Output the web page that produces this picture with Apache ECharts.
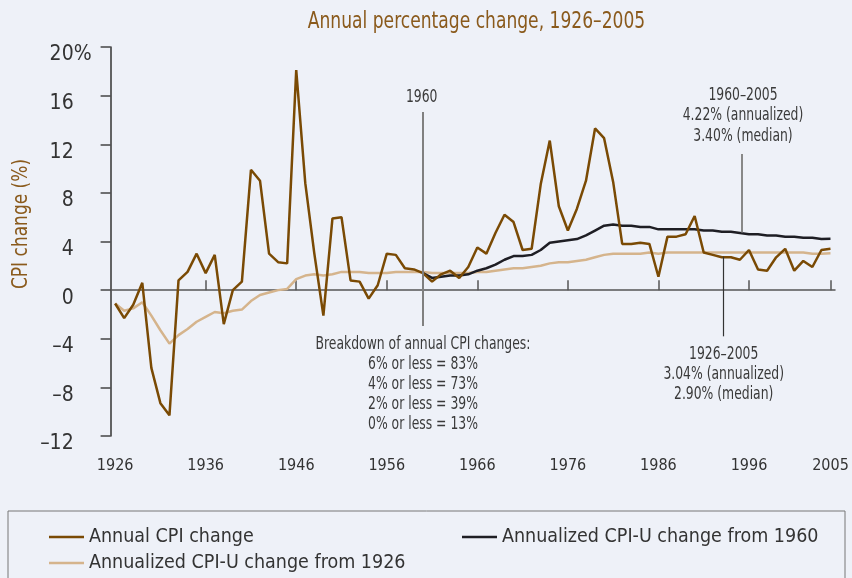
<!DOCTYPE html>
<html>
<head>
<meta charset="utf-8">
<script src="https://cdn.jsdelivr.net/npm/echarts@6/dist/echarts.min.js"></script>
<style>
  html, body { margin: 0; padding: 0; background: #eef1f8; }
  #chart { width: 852px; height: 578px; }
</style>
</head>
<body>
<div id="chart"></div>
<script>
const FONT = "'Liberation Sans Narrow', 'DejaVu Sans Condensed', sans-serif";
const NARROW = 0.81; // squeeze for the condensed look

// data
const firstYear = 1926;
const annualCpi = [
  -1.1, -2.3, -1.2, 0.6, -6.4, -9.3, -10.3, 0.8, 1.5, 3.0,
  1.4, 2.9, -2.8, 0.0, 0.7, 9.9, 9.0, 3.0, 2.3, 2.2,
  18.1, 8.8, 3.0, -2.1, 5.9, 6.0, 0.8, 0.7, -0.7, 0.4,
  3.0, 2.9, 1.8, 1.7, 1.4, 0.7, 1.3, 1.6, 1.0, 1.9,
  3.5, 3.0, 4.7, 6.2, 5.6, 3.3, 3.4, 8.7, 12.3, 6.9,
  4.9, 6.7, 9.0, 13.3, 12.5, 8.9, 3.8, 3.8, 3.9, 3.8,
  1.1, 4.4, 4.4, 4.6, 6.1, 3.1, 2.9, 2.7, 2.7, 2.5,
  3.3, 1.7, 1.6, 2.7, 3.4, 1.6, 2.4, 1.9, 3.3, 3.4
];
const annualizedFrom1926 = [
  -1.1, -1.7, -1.5, -1.0, -2.1, -3.3, -4.4, -3.7, -3.2, -2.6,
  -2.2, -1.8, -1.9, -1.7, -1.6, -0.9, -0.4, -0.2, 0.0, 0.1,
  0.9, 1.2, 1.3, 1.2, 1.3, 1.5, 1.5, 1.5, 1.4, 1.4,
  1.4, 1.5, 1.5, 1.5, 1.5, 1.4, 1.4, 1.4, 1.4, 1.4,
  1.5, 1.5, 1.6, 1.7, 1.8, 1.8, 1.9, 2.0, 2.2, 2.3,
  2.3, 2.4, 2.5, 2.7, 2.9, 3.0, 3.0, 3.0, 3.0, 3.1,
  3.0, 3.1, 3.1, 3.1, 3.1, 3.1, 3.1, 3.1, 3.1, 3.1,
  3.1, 3.1, 3.1, 3.1, 3.1, 3.1, 3.1, 3.0, 3.0, 3.04
];
const from1960Start = 1960;
const annualizedFrom1960 = [
  1.4, 1.0, 1.1, 1.2, 1.2, 1.3, 1.6, 1.8, 2.1, 2.5,
  2.8, 2.8, 2.9, 3.3, 3.9, 4.0, 4.1, 4.2, 4.5, 4.9,
  5.3, 5.4, 5.3, 5.3, 5.2, 5.2, 5.0, 5.0, 5.0, 5.0,
  5.0, 4.9, 4.9, 4.8, 4.8, 4.7, 4.6, 4.6, 4.5, 4.5,
  4.4, 4.4, 4.3, 4.3, 4.2, 4.22
];
const labelYears = [1926, 1936, 1946, 1956, 1966, 1976, 1986, 1996, 2005];
const tickYears = [1936, 1946, 1956, 1966, 1976, 1986, 1996, 2005];

// reference / leader lines [x, yFrom, yTo]
const line1960 = [1960, 14.66, -2.95];
const leader1960to2005 = [1995.2, 11.2, 4.75];
const leader1926to2005 = [1993.2, 2.75, -3.8];

const names = ['Annual CPI change', 'Annualized CPI-U change from 1960', 'Annualized CPI-U change from 1926'];
const colors = ['#7a4a04', '#1e1e24', '#d5b48c'];

const annualData = annualCpi.map((v, i) => [firstYear + i, v]);
const from1926Data = annualizedFrom1926.map((v, i) => [firstYear + i, v]);
const from1960Data = annualizedFrom1960.map((v, i) => [from1960Start + i, v]);

const vline = (l, color, width) => [
  { coord: [l[0], l[1]], lineStyle: { color: color, width: width, type: 'solid' } },
  { coord: [l[0], l[2]] }
];

const note = (x, y, text, size, lh, fill) => ({
  type: 'text', x: x, y: y, scaleX: NARROW,
  style: { text: text, fill: fill || '#3a3a3a', font: size + 'px ' + FONT, lineHeight: lh, align: 'center', verticalAlign: 'middle' }
});

const legendText = { fontFamily: FONT, fontSize: 19.5, color: '#333', lineHeight: 23 };

const chart = echarts.init(document.getElementById('chart'));

const option = {
  backgroundColor: '#eef1f8',
  animation: false,
  textStyle: { fontFamily: FONT },
  grid: {
    left: 110.6,
    right: 17,
    top: 47,
    bottom: 142,
    containLabel: false,
    outerBoundsMode: 'none'
  },
  legend: [
    {
      left: 49, top: 525.5, orient: 'vertical', itemGap: 3, padding: 0,
      icon: 'rect', itemWidth: 35, itemHeight: 2.5,
      data: [names[0], names[2]],
      textStyle: legendText
    },
    {
      left: 462, top: 525.5, orient: 'vertical', padding: 0,
      icon: 'rect', itemWidth: 35, itemHeight: 2.5,
      data: [names[1]],
      textStyle: legendText
    }
  ],
  xAxis: [
    {
      type: 'value', min: 1925.5, max: 2005.5,
      splitLine: { show: false },
      axisLine: { onZero: true, lineStyle: { color: '#555', width: 1.5 } },
      axisTick: { show: true, inside: true, length: 10, customValues: tickYears, lineStyle: { color: '#555', width: 1.5 } },
      axisLabel: { show: false }
    },
    {
      type: 'value', min: 1925.5, max: 2005.5, position: 'bottom',
      splitLine: { show: false },
      axisLine: { show: false, onZero: false },
      axisTick: { show: false },
      axisLabel: {
        customValues: labelYears, margin: 22,
        fontFamily: FONT, fontSize: 16, color: '#333',
        formatter: v => String(v)
      }
    }
  ],
  yAxis: {
    type: 'value', min: -12, max: 20, interval: 4,
    splitLine: { show: false },
    axisLine: { show: true, lineStyle: { color: '#333', width: 1.5 } },
    axisTick: { show: true, length: 10, lineStyle: { color: '#444', width: 1.5 } },
    axisLabel: {
      margin: 19,
      verticalAlign: 'top',
      lineHeight: 16,
      formatter: v => (v < 0 ? '–' + (-v) : String(v)) + (v === 20 ? '{s|%}' : '{h|%}'),
      fontFamily: FONT, fontSize: 21, color: '#333',
      rich: {
        s: { fontFamily: FONT, fontSize: 21, color: '#333', lineHeight: 16 },
        h: { fontFamily: FONT, fontSize: 21, color: 'rgba(0,0,0,0)', lineHeight: 16 }
      }
    }
  },
  graphic: [
    {
      type: 'rect', z: 0, silent: true,
      shape: { x: 8, y: 511, width: 837, height: 100 },
      style: { fill: 'none', stroke: '#777', lineWidth: 1 }
    },
    note(476.5, 22, 'Annual percentage change, 1926–2005', 23.5, 26, '#8a5a1c'),
    {
      type: 'text', x: 21, y: 224, rotation: Math.PI / 2, scaleX: 0.86,
      style: { text: 'CPI change (%)', fill: '#8a5a1c', font: '22px ' + FONT, align: 'center', verticalAlign: 'middle' }
    },
    note(421.7, 98, '1960', 17, 20),
    note(743, 116, '1960–2005\n4.22% (annualized)\n3.40% (median)', 17, 20.5),
    note(423, 384.5, 'Breakdown of annual CPI changes:\n6% or less = 83%\n4% or less = 73%\n2% or less = 39%\n0% or less = 13%', 17, 20.2),
    note(723.7, 375, '1926–2005\n3.04% (annualized)\n2.90% (median)', 17, 20)
  ],
  series: [
    {
      name: names[2], type: 'line', data: from1926Data,
      symbol: 'none', z: 2,
      lineStyle: { color: colors[2], width: 2.5 }, itemStyle: { color: colors[2] }
    },
    {
      name: names[1], type: 'line', data: from1960Data,
      symbol: 'none', z: 3,
      lineStyle: { color: colors[1], width: 2.5 }, itemStyle: { color: colors[1] }
    },
    {
      name: names[0], type: 'line', data: annualData,
      symbol: 'none', z: 4,
      lineStyle: { color: colors[0], width: 2.5 }, itemStyle: { color: colors[0] },
      markLine: {
        silent: true, symbol: 'none', label: { show: false },
        data: [
          vline(line1960, '#808080', 2),
          vline(leader1960to2005, '#888', 2),
          vline(leader1926to2005, '#333', 1.2)
        ]
      }
    }
  ]
};

chart.setOption(option);
</script>
</body>
</html>
